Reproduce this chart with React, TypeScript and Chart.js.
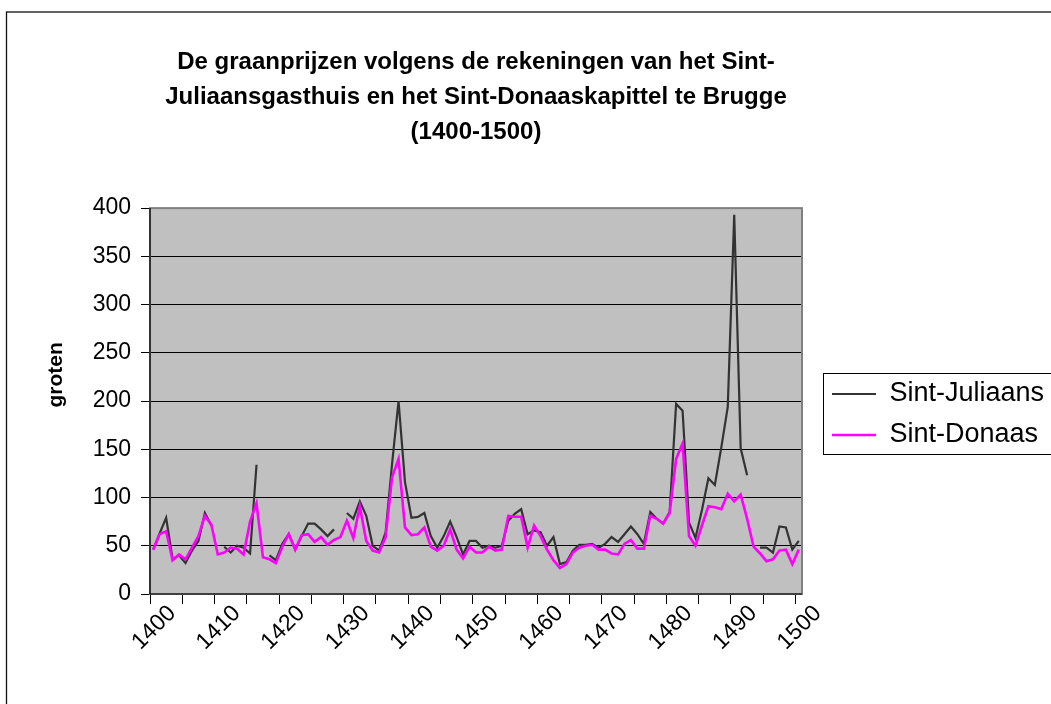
import React, { useEffect, useRef } from 'react';
import { Chart, registerables } from 'chart.js';
Chart.register(...registerables);

const years: string[] = Array.from({ length: 101 }, (_, i) => String(1400 + i));

const sintJuliaans: (number | null)[] = [
  46, 63, 79, 36, 40, 32, 45, 55, 84, 71,
  null, 49, 43, 50, 48, 42, 134, null, 40, 35,
  52, 62, 46, 60, 73, 73, 67, 60, 67, null,
  84, 78, 96, 81, 50, 45, 64, 135, 200, 116,
  79, 80, 84, 60, 48, 60, 75, 59, 41, 55,
  55, 48, 50, 48, 50, 76, 83, 88, 62, 66,
  64, 50, 59, 31, 33, 45, 51, 51, 52, 48,
  52, 59, 54, 62, 70, 62, 52, 85, 78, 73,
  85, 197, 190, 74, 58, 87, 120, 113, 152, 194,
  393, 151, 123, null, 48, 48, 43, 70, 69, 46,
  55,
];

const sintDonaas: (number | null)[] = [
  46, 62, 65, 35, 41, 36, 48, 60, 81, 72,
  41, 43, 48, 47, 41, 75, 94, 38, 36, 32,
  49, 62, 46, 61, 62, 54, 59, 51, 56, 59,
  76, 58, 91, 55, 45, 43, 59, 121, 140, 69,
  61, 62, 69, 49, 45, 50, 67, 46, 37, 49,
  43, 43, 49, 45, 46, 81, 80, 80, 48, 71,
  60, 46, 35, 27, 31, 43, 48, 50, 51, 46,
  46, 42, 41, 52, 56, 47, 47, 81, 78, 73,
  84, 140, 156, 60, 50, 71, 91, 90, 88, 104,
  96, 103, 78, 49, 42, 34, 36, 45, 46, 31,
  46,
];

const seriesNames = ['Sint-Juliaans', 'Sint-Donaas'];
const titleLines = [
  'De graanprijzen volgens de rekeningen van het Sint-',
  'Juliaansgasthuis en het Sint-Donaaskapittel te Brugge',
  '(1400-1500)',
];
const yAxisTitle = 'groten';
const yMin = 0;
const yMax = 400;
const yStep = 50;

const FONT = '"Liberation Sans", Arial, sans-serif';

export default function App() {
  const ref = useRef<HTMLCanvasElement>(null);

  useEffect(() => {
    const canvas = ref.current;
    if (!canvas) return;
    Chart.defaults.font.family = FONT;

    const framePlugin = {
      id: 'frame',
      beforeDraw(chart: any) {
        const { ctx, chartArea: a } = chart;
        ctx.save();
        ctx.fillStyle = '#ffffff';
        ctx.fillRect(0, 0, chart.width, chart.height);
        ctx.strokeStyle = '#111';
        ctx.lineWidth = 1.3;
        ctx.strokeRect(6.5, 12, chart.width + 40, chart.height + 40);
        ctx.fillStyle = '#C0C0C0';
        ctx.fillRect(a.left, a.top, a.right - a.left, a.bottom - a.top);
        ctx.restore();
      },
      afterLayout(chart: any) {
        const lg = chart.legend;
        if (lg) {
          const w = lg.width;
          const h = lg.height;
          lg.left = 818;
          lg.top = 366.5;
          lg.right = lg.left + w;
          lg.bottom = lg.top + h;
        }
      },
      afterDraw(chart: any) {
        const { ctx, chartArea: a } = chart;
        ctx.save();
        ctx.strokeStyle = '#808080';
        ctx.lineWidth = 2;
        ctx.strokeRect(a.left, a.top, a.right - a.left, a.bottom - a.top);
        ctx.strokeStyle = '#000';
        ctx.lineWidth = 1.2;
        ctx.beginPath();
        ctx.moveTo(a.left, a.top);
        ctx.lineTo(a.left, a.bottom);
        ctx.lineTo(a.right, a.bottom);
        ctx.stroke();
        ctx.lineWidth = 1;
        ctx.strokeRect(823.5, 373.5, 400, 81);
        ctx.restore();
      },
    };

    const chart = new Chart(canvas, {
      type: 'line',
      data: {
        labels: years,
        datasets: [
          {
            label: seriesNames[0],
            data: sintJuliaans,
            borderColor: '#333333',
            backgroundColor: '#333333',
            borderWidth: 2.2,
            pointRadius: 0,
            tension: 0,
            spanGaps: false,
            fill: false,
            order: 1,
          },
          {
            label: seriesNames[1],
            data: sintDonaas,
            borderColor: '#FF00FF',
            backgroundColor: '#FF00FF',
            borderWidth: 2.6,
            pointRadius: 0,
            tension: 0,
            spanGaps: false,
            fill: false,
            order: 0,
          },
        ],
      },
      options: {
        responsive: false,
        animation: false,
        devicePixelRatio: 1,
        layout: { padding: { top: 0, left: 0, right: 249, bottom: 0 } },
        plugins: {
          title: {
            display: true,
            text: titleLines,
            fullSize: false,
            color: '#000',
            font: { size: 24, weight: 'bold', lineHeight: 1.46 },
            padding: { top: 45, bottom: 58 },
          },
          legend: {
            position: 'chartArea',
            align: 'start',
            labels: {
              color: '#000',
              font: { size: 27 },
              usePointStyle: true,
              pointStyle: 'line',
              pointStyleWidth: 44,
              padding: 14,
              sort: (a: any, b: any) => a.datasetIndex - b.datasetIndex,
            },
          },
          tooltip: { enabled: false },
        },
        scales: {
          x: {
            type: 'category',
            offset: true,
            grid: {
              offset: true,
              drawOnChartArea: false,
              drawTicks: true,
              tickLength: 10,
              tickWidth: 1,
              tickColor: (c: any) => (c.index % 5 === 0 ? '#000' : 'rgba(0,0,0,0)'),
            },
            border: { display: false },
            ticks: {
              autoSkip: false,
              maxRotation: 45,
              minRotation: 45,
              color: '#000',
              font: { size: 23 },
              padding: -4,
              labelOffset: 19,
              callback: (_v: any, i: number) => (i % 10 === 0 ? years[i] : ''),
            },
            afterFit: (s: any) => {
              s.height = 110;
              s.paddingLeft = 0;
              s.paddingRight = 0;
            },
          },
          y: {
            min: yMin,
            max: yMax,
            ticks: { stepSize: yStep, color: '#000', font: { size: 23 }, padding: 10 },
            grid: { color: '#000', lineWidth: 1, tickLength: 9, tickColor: '#000' },
            border: { display: false },
            title: {
              display: true,
              text: '         ' + yAxisTitle,
              color: '#000',
              font: { size: 21, weight: 'bold' },
              padding: { top: 44, bottom: 0 },
            },
            afterFit: (s: any) => {
              s.width = 150;
              s.paddingTop = 0;
              s.paddingBottom = 0;
            },
          },
        },
      },
      plugins: [framePlugin],
    } as any);

    return () => chart.destroy();
  }, []);

  return (
    <div style={{ position: 'fixed', left: 0, top: 0, width: 1051, height: 704, background: '#fff' }}>
      <canvas ref={ref} width={1051} height={704} style={{ display: 'block' }} />
    </div>
  );
}
